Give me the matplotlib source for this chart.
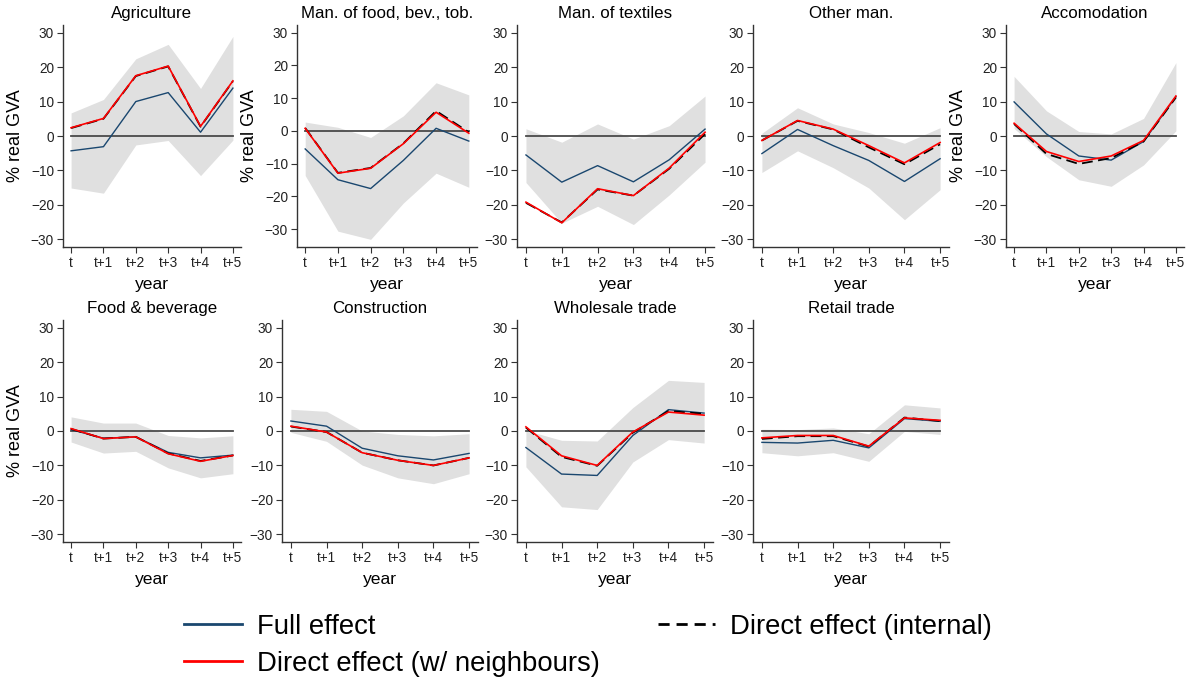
import numpy as np
import matplotlib
matplotlib.use("Agg")
import matplotlib.pyplot as plt
from matplotlib.lines import Line2D

plt.rcParams.update({"font.family": ["Liberation Sans", "DejaVu Sans"]})

# horizon labels
years = ["t", "t+1", "t+2", "t+3", "t+4", "t+5"]
sectors = ["Agriculture", "Man. of food, bev., tob.", "Man. of textiles", "Other man.",
           "Accomodation", "Food & beverage", "Construction", "Wholesale trade", "Retail trade"]

# full effect (blue)
full = [
    [-4.3, -3.1, 10.0, 12.6, 1.1, 13.9],
    [-5.5, -14.9, -17.6, -9.0, 0.8, -3.1],
    [-5.5, -13.4, -8.6, -13.3, -6.9, 2.0],
    [-5.1, 1.9, -2.8, -7.1, -13.2, -6.6],
    [9.9, 0.6, -5.8, -7.0, -1.6, 11.4],
    [0.4, -2.1, -1.7, -6.2, -7.8, -7.0],
    [2.9, 1.4, -5.0, -7.2, -8.4, -6.5],
    [-4.8, -12.5, -12.9, -1.3, 6.2, 5.2],
    [-3.3, -3.5, -2.7, -4.9, 3.6, 2.8],
]
# direct effect with neighbours (red)
direct_nb = [
    [2.4, 5.1, 17.5, 20.3, 2.8, 16.0],
    [0.8, -12.9, -11.4, -3.9, 5.7, -0.7],
    [-19.2, -25.2, -15.3, -17.3, -9.3, 1.1],
    [-1.3, 4.5, 2.0, -2.8, -7.8, -1.9],
    [3.7, -4.5, -7.4, -5.8, -1.3, 11.6],
    [0.7, -2.2, -1.7, -6.6, -8.8, -7.1],
    [1.4, -0.3, -6.3, -8.5, -10.0, -7.8],
    [1.2, -7.2, -10.0, -0.3, 5.5, 4.6],
    [-2.0, -1.3, -1.3, -4.4, 3.8, 3.1],
]
# direct effect, internal (black dashed)
direct_int = [
    [2.3, 5.0, 17.4, 20.2, 2.7, 15.9],
    [0.9, -12.8, -11.3, -3.8, 6.1, -0.4],
    [-19.4, -25.1, -15.5, -17.3, -9.5, 0.6],
    [-1.3, 4.4, 1.9, -3.3, -8.2, -2.4],
    [3.5, -5.2, -8.1, -6.4, -1.6, 11.2],
    [0.6, -2.2, -1.7, -6.5, -8.7, -7.1],
    [1.3, -0.3, -6.3, -8.5, -10.0, -7.8],
    [1.0, -7.5, -10.1, -0.5, 5.8, 5.0],
    [-2.3, -1.5, -1.5, -4.5, 3.9, 2.9],
]
# confidence band of the full effect
ci_hi = [
    [6.7, 10.6, 22.4, 26.6, 13.8, 28.9],
    [2.7, 1.1, -2.0, 4.6, 14.7, 11.0],
    [2.1, -1.8, 3.5, -0.9, 3.0, 11.6],
    [0.8, 8.2, 3.5, 1.0, -2.1, 2.4],
    [17.3, 7.3, 1.3, 0.6, 5.1, 21.3],
    [4.1, 2.3, 2.3, -1.3, -2.0, -1.4],
    [6.3, 5.7, 0.0, -1.0, -1.4, -0.8],
    [0.2, -2.7, -2.9, 6.8, 14.7, 14.1],
    [0.5, 0.4, 0.9, -0.8, 7.6, 6.7],
]
ci_lo = [
    [-15.1, -16.6, -2.6, -1.3, -11.5, -1.2],
    [-13.6, -30.6, -33.1, -22.0, -12.9, -17.2],
    [-13.5, -25.3, -20.4, -25.7, -17.1, -7.6],
    [-10.6, -4.3, -9.2, -15.1, -24.3, -15.6],
    [2.2, -6.0, -12.7, -14.6, -8.4, 1.5],
    [-3.2, -6.4, -5.9, -10.7, -13.6, -12.4],
    [-0.4, -3.0, -9.9, -13.6, -15.3, -12.4],
    [-10.4, -22.0, -22.8, -9.0, -2.5, -3.5],
    [-6.3, -7.2, -6.3, -8.8, -0.1, -1.0],
]

W, H = 1193, 682
# panel boxes in pixels: (left spine x, right edge x, top y, bottom y), y from top
boxes = [
    (63, 241, 25, 247), (297, 477, 25, 247), (517, 714, 25, 247),
    (753, 949, 25, 247), (1006, 1184, 25, 247),
    (63, 241, 320, 542), (282, 478, 320, 542), (517, 713, 320, 542),
    (753, 949, 320, 542),
]
with_ylabel = [True, True, False, False, True, True, False, False, False]

NAVY = "#1a476f"
BAND = "#e0e0e0"
AXC = "#333333"

fig = plt.figure(figsize=(W / 100, H / 100), dpi=100)
x = np.arange(len(years))

for i, name in enumerate(sectors):
    l, r, t, b = boxes[i]
    ax = fig.add_axes([l / W, 1 - b / H, (r - l) / W, (b - t) / H])
    lo_, hi_ = np.array(ci_lo[i]), np.array(ci_hi[i])
    ax.fill_between(x, lo_, hi_, color=BAND, lw=0, zorder=1)
    ax.plot([x[0], x[-1]], [0, 0], color="#4a4a4a", lw=1.3, zorder=2)
    ax.plot(x, full[i], color=NAVY, lw=1.0, zorder=3)
    ax.plot(x, direct_int[i], color="black", lw=1.3, dashes=(6, 3), zorder=4)
    ax.plot(x, direct_nb[i], color="#ff0000", lw=1.2, zorder=5)

    ymin = min(lo_.min(), -30)
    ymax = max(hi_.max(), 30)
    pad = 0.037 * (ymax - ymin)
    ax.set_ylim(ymin - pad, ymax + pad)
    ax.set_xlim(-0.25, 5.25)
    ax.set_yticks([-30, -20, -10, 0, 10, 20, 30])
    ax.set_xticks(x)
    ax.set_xticklabels(years)
    ax.tick_params(labelsize=9.8, length=4, width=0.8, color=AXC, labelcolor="#222222", pad=2.5)
    for s in ("top", "right"):
        ax.spines[s].set_visible(False)
    for s in ("left", "bottom"):
        ax.spines[s].set_color(AXC)
        ax.spines[s].set_linewidth(1.0)
    ax.set_xlabel("year", fontsize=12.6, labelpad=5)
    if with_ylabel[i]:
        ax.set_ylabel("% real GVA", fontsize=13, labelpad=5)
    ax.set_title(name, fontsize=12.2, pad=5)

handles = [
    Line2D([], [], color=NAVY, lw=2.0),
    Line2D([], [], color="#ff0000", lw=2.0),
    Line2D([], [], color="black", lw=2.0, dashes=(4, 2.5)),
]
labels = ["Full effect", "Direct effect (w/ neighbours)", "Direct effect (internal)"]
fig.legend(handles, labels, loc="upper left", bbox_to_anchor=(184 / W, 1 - 614 / H),
           ncol=2, frameon=False, fontsize=19.8, handlelength=2.1, handletextpad=0.55,
           columnspacing=2.1, labelspacing=0.4, borderpad=0, borderaxespad=0)

fig.savefig("out.png", dpi=100)
